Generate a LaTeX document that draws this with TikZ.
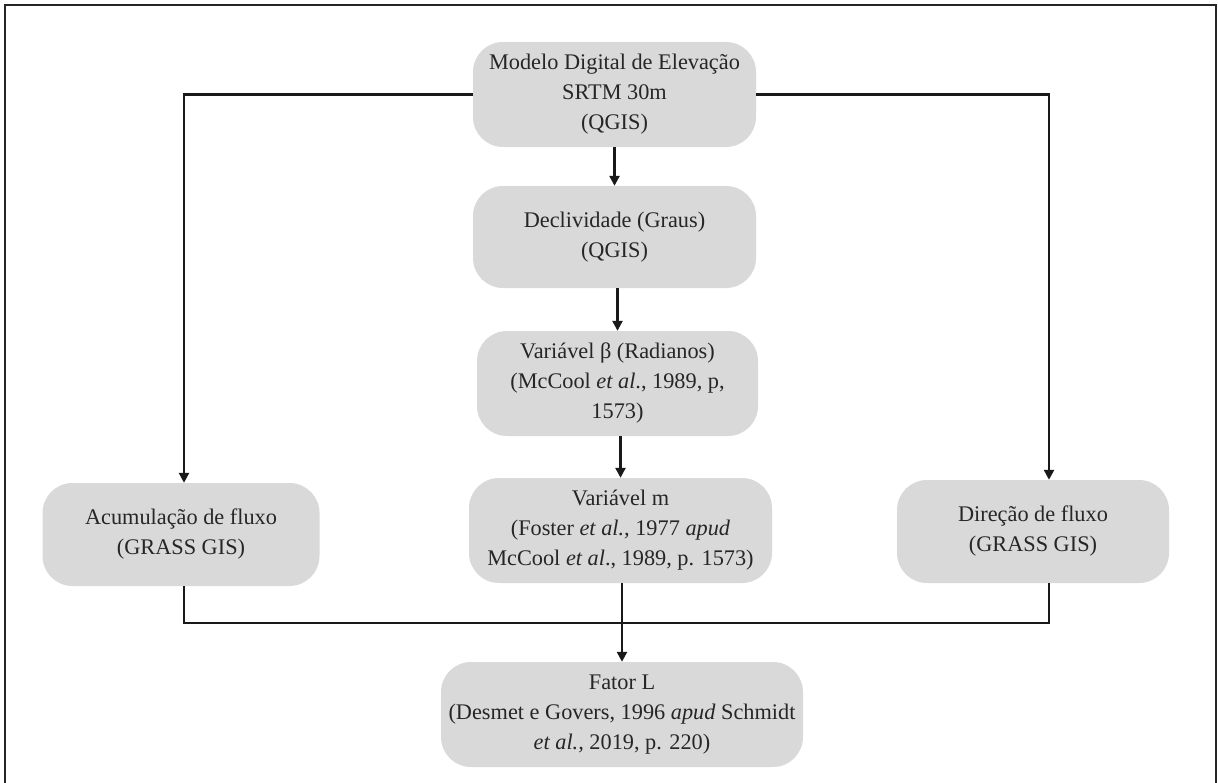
\documentclass[tikz,border=0pt]{standalone}
\usepackage{fontspec}
\setmainfont{Liberation Serif}
\usetikzlibrary{arrows.meta}
\definecolor{boxgray}{HTML}{D9D9D9}
\tikzset{
  flowbox/.style={fill=boxgray, draw=none, rounded corners=30pt, inner sep=0pt,
    align=center, font=\fontsize{22.3}{30}\selectfont, text=black!85},
  conn/.style={line width=2.4pt, draw=black!90},
  arr/.style={conn, -{Triangle[length=10pt,width=10pt]}},
  frame/.style={line width=2pt, draw=black!85}
}
\begin{document}
\begin{tikzpicture}[x=1pt,y=-1pt]
\useasboundingbox (0,0) rectangle (1218,782);
\draw[frame] (5,790) -- (5,5) -- (1216,5) -- (1216,790);

\node[flowbox, minimum width=283pt, minimum height=105pt] (top) at (614.5,94.5)
  {Modelo Digital de Elevação\\SRTM 30m\\(QGIS)};
\node[flowbox, minimum width=283pt, minimum height=102pt] (decl) at (614.5,237)
  {Declividade (Graus)\\(QGIS)};
\node[flowbox, minimum width=281pt, minimum height=105pt] (beta) at (617.5,383.5)
  {Variável β (Radianos)\\(McCool \textit{et al}., 1989, p,\\1573)};
\node[flowbox, minimum width=303pt, minimum height=105pt] (m) at (620.5,530.5)
  {Variável m\\(Foster \textit{et al.,} 1977 \textit{apud}\\McCool \textit{et al}., 1989, p. 1573)};
\node[flowbox, minimum width=277pt, minimum height=103pt] (acum) at (181,534.5)
  {Acumulação de fluxo\\(GRASS GIS)};
\node[flowbox, minimum width=272pt, minimum height=103pt] (dir) at (1033,531.5)
  {Direção de fluxo\\(GRASS GIS)};
\node[flowbox, minimum width=362pt, minimum height=105pt] (fator) at (622,714.5)
  {Fator L\\(Desmet e Govers, 1996 \textit{apud} Schmidt\\\textit{et al.,} 2019, p. 220)};

\coordinate (dirin) at ([xshift=16pt]dir.north);
\coordinate (dirout) at ([xshift=16pt]dir.south);
\coordinate (acin) at ([xshift=3pt]acum.north);
\coordinate (acout) at ([xshift=3pt]acum.south);
\coordinate (mout) at ([xshift=1.5pt]m.south);
\coordinate (join) at (mout |- 0,623);

\draw[arr] (top) -- (decl);
\draw[arr] ([xshift=3pt]decl.south) -- ([xshift=3pt]decl.south |- beta.north);
\draw[arr] ([xshift=3pt]beta.south) -- ([xshift=3pt]beta.south |- m.north);
\draw[arr] (top.west) -| (acin);
\draw[arr] (top.east) -| (dirin);
\draw[conn] (acout) |- (join) -| (dirout);
\draw[arr] (mout) -- (mout |- fator.north);
\end{tikzpicture}
\end{document}
